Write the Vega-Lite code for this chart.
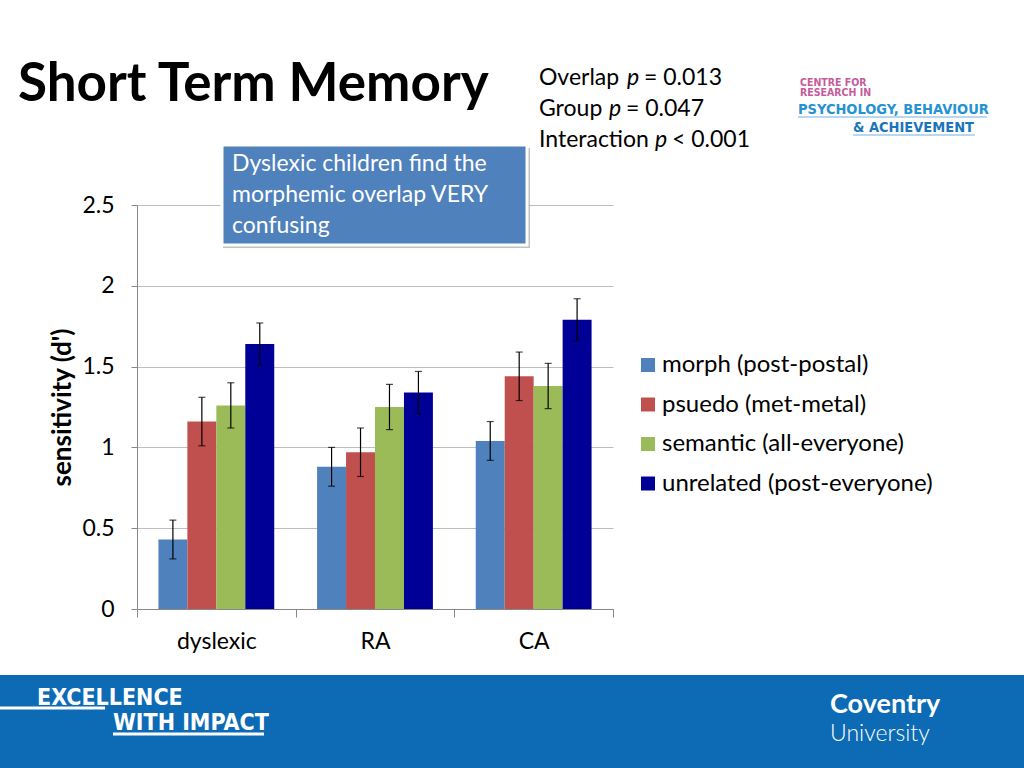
{
  "$schema": "https://vega.github.io/schema/vega-lite/v6.json",
  "width": 476,
  "height": 404,
  "autosize": {"type": "none"},
  "padding": {"left": 137, "top": 205, "right": 411, "bottom": 159},
  "background": "white",
  "config": {
    "font": "Lato",
    "view": {"stroke": null},
    "axis": {"labelFont": "Lato", "labelFontSize": 23, "labelColor": "black", "domainColor": "#888888", "tickColor": "#888888", "gridColor": "#bdbdbd", "titleFont": "Lato", "titleColor": "black"},
    "legend": {"orient": "none", "legendX": 499, "legendY": 148, "labelFont": "Lato", "labelFontSize": 24, "labelColor": "black", "symbolType": "square", "symbolSize": 196, "symbolStrokeWidth": 0, "rowPadding": 15.5, "labelOffset": 2, "labelLimit": 400}
  },
  "data": {
    "values": [
      {"grp": "dyslexic", "cond": "morph (post-postal)", "d": 0.43, "lo": 0.31, "hi": 0.55},
      {"grp": "dyslexic", "cond": "psuedo (met-metal)", "d": 1.16, "lo": 1.01, "hi": 1.31},
      {"grp": "dyslexic", "cond": "semantic (all-everyone)", "d": 1.26, "lo": 1.12, "hi": 1.40},
      {"grp": "dyslexic", "cond": "unrelated (post-everyone)", "d": 1.64, "lo": 1.51, "hi": 1.77},
      {"grp": "RA", "cond": "morph (post-postal)", "d": 0.88, "lo": 0.76, "hi": 1.00},
      {"grp": "RA", "cond": "psuedo (met-metal)", "d": 0.97, "lo": 0.82, "hi": 1.12},
      {"grp": "RA", "cond": "semantic (all-everyone)", "d": 1.25, "lo": 1.11, "hi": 1.39},
      {"grp": "RA", "cond": "unrelated (post-everyone)", "d": 1.34, "lo": 1.21, "hi": 1.47},
      {"grp": "CA", "cond": "morph (post-postal)", "d": 1.04, "lo": 0.92, "hi": 1.16},
      {"grp": "CA", "cond": "psuedo (met-metal)", "d": 1.44, "lo": 1.29, "hi": 1.59},
      {"grp": "CA", "cond": "semantic (all-everyone)", "d": 1.38, "lo": 1.24, "hi": 1.52},
      {"grp": "CA", "cond": "unrelated (post-everyone)", "d": 1.79, "lo": 1.66, "hi": 1.92}
    ]
  },
  "layer": [
    {
      "mark": {"type": "bar"},
      "encoding": {
        "x": {"field": "grp", "type": "nominal", "sort": ["dyslexic", "RA", "CA"], "scale": {"paddingInner": 0, "paddingOuter": 0}, "axis": {"title": null, "tickBand": "extent", "tickSize": 8, "labelPadding": 13, "labelAngle": 0, "grid": false}},
        "xOffset": {"field": "cond", "type": "nominal", "sort": ["morph (post-postal)", "psuedo (met-metal)", "semantic (all-everyone)", "unrelated (post-everyone)"], "scale": {"paddingInner": 0, "paddingOuter": 0.74}},
        "y": {"field": "d", "type": "quantitative", "scale": {"domain": [0, 2.5], "nice": false}, "axis": {"values": [0, 0.5, 1, 1.5, 2, 2.5], "format": "~g", "tickSize": 6, "labelPadding": 17, "title": "sensitivity (d')", "titleFontSize": 26, "titleFontWeight": "bold", "titlePadding": 6, "grid": true}},
        "color": {"field": "cond", "type": "nominal", "title": null, "scale": {"domain": ["morph (post-postal)", "psuedo (met-metal)", "semantic (all-everyone)", "unrelated (post-everyone)"], "range": ["#4F81BD", "#C0504D", "#9BBB59", "#000096"]}}
      }
    },
    {
      "mark": {"type": "rule", "color": "black", "strokeWidth": 1.2},
      "encoding": {
        "x": {"field": "grp", "type": "nominal", "sort": ["dyslexic", "RA", "CA"]},
        "xOffset": {"field": "cond", "type": "nominal", "sort": ["morph (post-postal)", "psuedo (met-metal)", "semantic (all-everyone)", "unrelated (post-everyone)"]},
        "y": {"field": "lo", "type": "quantitative"}, "y2": {"field": "hi"}
      }
    },
    {
      "mark": {"type": "tick", "color": "black", "thickness": 1.2, "size": 7},
      "encoding": {
        "x": {"field": "grp", "type": "nominal", "sort": ["dyslexic", "RA", "CA"]},
        "xOffset": {"field": "cond", "type": "nominal", "sort": ["morph (post-postal)", "psuedo (met-metal)", "semantic (all-everyone)", "unrelated (post-everyone)"]},
        "y": {"field": "lo", "type": "quantitative"}
      }
    },
    {
      "mark": {"type": "tick", "color": "black", "thickness": 1.2, "size": 7},
      "encoding": {
        "x": {"field": "grp", "type": "nominal", "sort": ["dyslexic", "RA", "CA"]},
        "xOffset": {"field": "cond", "type": "nominal", "sort": ["morph (post-postal)", "psuedo (met-metal)", "semantic (all-everyone)", "unrelated (post-everyone)"]},
        "y": {"field": "hi", "type": "quantitative"}
      }
    },
    {
      "data": {"values": [{"note": "Short Term Memory"}]},
      "mark": {"type": "text", "align": "left", "baseline": "alphabetic", "fontSize": 53, "fontWeight": "bold", "color": "black", "font": "Lato"},
      "encoding": {"text": {"field": "note"}, "x": {"value": -119}, "y": {"value": -104}}
    },
    {
      "data": {"values": [{"part": "shadow"}]},
      "mark": {"type": "rect", "fill": "#9a9a9a", "opacity": 0.6},
      "encoding": {"x": {"value": 86}, "x2": {"value": 393}, "y": {"value": -57}, "y2": {"value": 43}}
    },
    {
      "data": {"values": [{"part": "box"}]},
      "mark": {"type": "rect", "fill": "#4F81BD", "stroke": "white", "strokeWidth": 3},
      "encoding": {"x": {"value": 85}, "x2": {"value": 390}, "y": {"value": -60}, "y2": {"value": 40}}
    },
    {
      "data": {"values": [{"note": ["Dyslexic children find the", "morphemic overlap VERY", "confusing"]}]},
      "mark": {"type": "text", "align": "left", "baseline": "alphabetic", "fontSize": 23, "color": "white", "lineHeight": 31, "font": "Lato"},
      "encoding": {"text": {"field": "note"}, "x": {"value": 95}, "y": {"value": -34}}
    },
    {
      "data": {"values": [{"note": ["Overlap", "Group", "Interaction"]}]},
      "mark": {"type": "text", "align": "left", "baseline": "alphabetic", "fontSize": 23, "color": "black", "lineHeight": 31, "font": "Lato"},
      "encoding": {"text": {"field": "note"}, "x": {"value": 402}, "y": {"value": -120}}
    },
    {
      "data": {"values": [{"note": "p"}]},
      "mark": {"type": "text", "align": "left", "baseline": "alphabetic", "fontSize": 23, "fontStyle": "italic", "color": "black", "font": "Lato"},
      "encoding": {"text": {"field": "note"}, "x": {"value": 490}, "y": {"value": -120}}
    },
    {
      "data": {"values": [{"note": "= 0.013"}]},
      "mark": {"type": "text", "align": "left", "baseline": "alphabetic", "fontSize": 23, "color": "black", "font": "Lato"},
      "encoding": {"text": {"field": "note"}, "x": {"value": 507}, "y": {"value": -120}}
    },
    {
      "data": {"values": [{"note": "p"}]},
      "mark": {"type": "text", "align": "left", "baseline": "alphabetic", "fontSize": 23, "fontStyle": "italic", "color": "black", "font": "Lato"},
      "encoding": {"text": {"field": "note"}, "x": {"value": 472}, "y": {"value": -89}}
    },
    {
      "data": {"values": [{"note": "= 0.047"}]},
      "mark": {"type": "text", "align": "left", "baseline": "alphabetic", "fontSize": 23, "color": "black", "font": "Lato"},
      "encoding": {"text": {"field": "note"}, "x": {"value": 489}, "y": {"value": -89}}
    },
    {
      "data": {"values": [{"note": "p"}]},
      "mark": {"type": "text", "align": "left", "baseline": "alphabetic", "fontSize": 23, "fontStyle": "italic", "color": "black", "font": "Lato"},
      "encoding": {"text": {"field": "note"}, "x": {"value": 518}, "y": {"value": -58}}
    },
    {
      "data": {"values": [{"note": "< 0.001"}]},
      "mark": {"type": "text", "align": "left", "baseline": "alphabetic", "fontSize": 23, "color": "black", "font": "Lato"},
      "encoding": {"text": {"field": "note"}, "x": {"value": 535}, "y": {"value": -58}}
    },
    {
      "data": {"values": [{"part": "banner"}]},
      "mark": {"type": "rect", "fill": "#0c6bb4"},
      "encoding": {"x": {"value": -137}, "x2": {"value": 887}, "y": {"value": 470}, "y2": {"value": 563}}
    },
    {
      "data": {"values": [{"part": "line1"}]},
      "mark": {"type": "rule", "color": "white", "strokeWidth": 3},
      "encoding": {"x": {"value": -137}, "x2": {"value": -32}, "y": {"value": 503}}
    },
    {
      "data": {"values": [{"part": "line2"}]},
      "mark": {"type": "rule", "color": "white", "strokeWidth": 3},
      "encoding": {"x": {"value": -24}, "x2": {"value": 127}, "y": {"value": 529}}
    },
    {
      "data": {"values": [{"note": "EXCELLENCE"}]},
      "mark": {"type": "text", "align": "left", "baseline": "alphabetic", "fontSize": 23, "fontWeight": "bold", "color": "white", "font": "'DejaVu Sans Condensed', Roboto"},
      "encoding": {"text": {"field": "note"}, "x": {"value": -100}, "y": {"value": 500}}
    },
    {
      "data": {"values": [{"note": "WITH IMPACT"}]},
      "mark": {"type": "text", "align": "left", "baseline": "alphabetic", "fontSize": 23, "fontWeight": "bold", "color": "white", "font": "'DejaVu Sans Condensed', Roboto"},
      "encoding": {"text": {"field": "note"}, "x": {"value": -24}, "y": {"value": 525}}
    },
    {
      "data": {"values": [{"note": "Coventry"}]},
      "mark": {"type": "text", "align": "left", "baseline": "alphabetic", "fontSize": 27, "fontWeight": "bold", "color": "white", "font": "Lato"},
      "encoding": {"text": {"field": "note"}, "x": {"value": 693}, "y": {"value": 508}}
    },
    {
      "data": {"values": [{"note": "University"}]},
      "mark": {"type": "text", "align": "left", "baseline": "alphabetic", "fontSize": 23, "fontWeight": 300, "color": "white", "font": "Lato"},
      "encoding": {"text": {"field": "note"}, "x": {"value": 693}, "y": {"value": 536}}
    },
    {
      "data": {"values": [{"note": ["CENTRE FOR", "RESEARCH IN"]}]},
      "mark": {"type": "text", "align": "left", "baseline": "alphabetic", "fontSize": 10.5, "fontWeight": "bold", "color": "#c65a9b", "lineHeight": 10, "font": "'DejaVu Sans Condensed', Roboto"},
      "encoding": {"text": {"field": "note"}, "x": {"value": 663}, "y": {"value": -119}}
    },
    {
      "data": {"values": [{"note": "PSYCHOLOGY, BEHAVIOUR"}]},
      "mark": {"type": "text", "align": "left", "baseline": "alphabetic", "fontSize": 14.5, "fontWeight": "bold", "color": "#2592d3", "font": "'DejaVu Sans Condensed', Roboto"},
      "encoding": {"text": {"field": "note"}, "x": {"value": 661}, "y": {"value": -91}}
    },
    {
      "data": {"values": [{"note": "& ACHIEVEMENT"}]},
      "mark": {"type": "text", "align": "left", "baseline": "alphabetic", "fontSize": 14.5, "fontWeight": "bold", "color": "#1b75bb", "font": "'DejaVu Sans Condensed', Roboto"},
      "encoding": {"text": {"field": "note"}, "x": {"value": 716}, "y": {"value": -73}}
    },
    {
      "data": {"values": [{"part": "logoline1"}]},
      "mark": {"type": "rule", "color": "#9fcbe9", "strokeWidth": 1.5},
      "encoding": {"x": {"value": 661}, "x2": {"value": 850}, "y": {"value": -88}}
    },
    {
      "data": {"values": [{"part": "logoline2"}]},
      "mark": {"type": "rule", "color": "#9fcbe9", "strokeWidth": 1.5},
      "encoding": {"x": {"value": 716}, "x2": {"value": 838}, "y": {"value": -70}}
    }
  ]
}
